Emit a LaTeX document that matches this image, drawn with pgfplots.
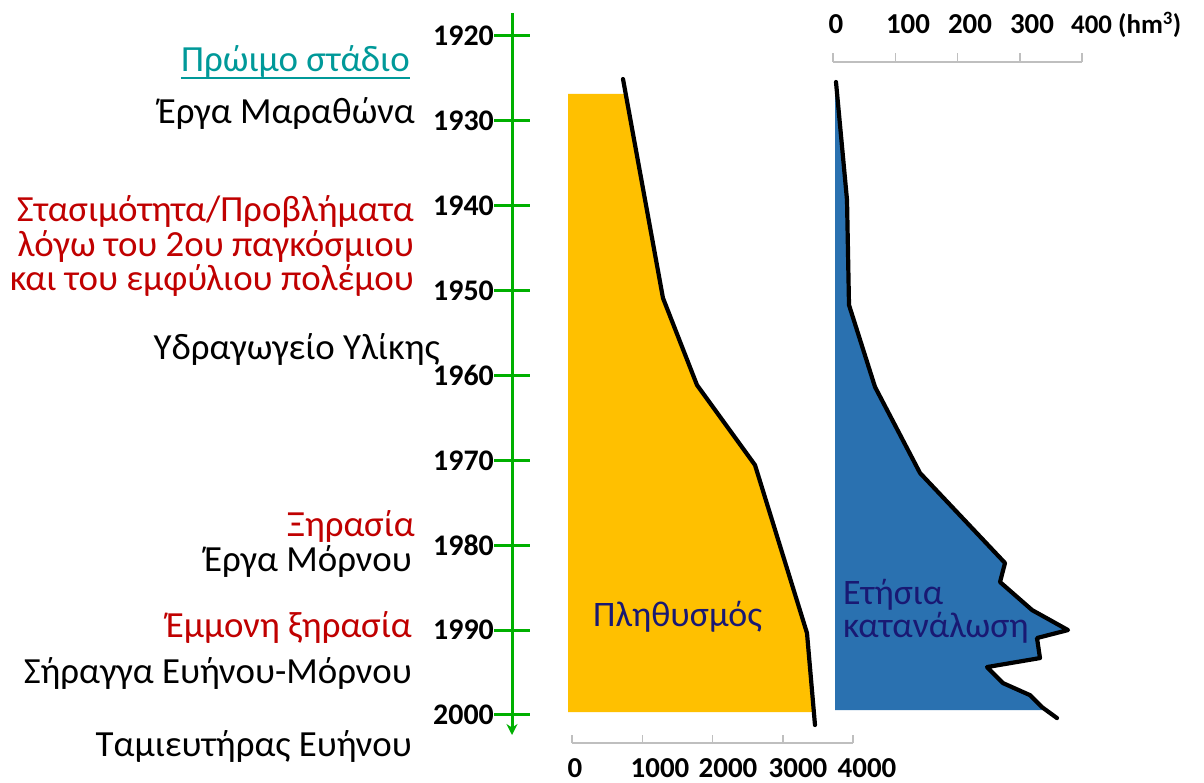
\documentclass[border=0pt]{standalone}
\usepackage{fontspec}
\setmainfont{Carlito}
\usepackage{pgfplots}
\pgfplotsset{compat=1.18}
\usetikzlibrary{arrows.meta}
\definecolor{popc}{RGB}{255,192,0}
\definecolor{conc}{RGB}{42,113,176}
\definecolor{tlgreen}{RGB}{0,176,0}
\definecolor{dred}{RGB}{192,0,0}
\definecolor{tealc}{RGB}{0,153,153}
\definecolor{navyc}{RGB}{25,25,115}
\definecolor{axgray}{RGB}{191,191,191}
\newcommand\bigf{\fontsize{37}{34}\selectfont}
\newcommand\midf{\fontsize{36}{32}\selectfont}
\newcommand\numf{\fontsize{29}{30}\selectfont\bfseries}
\newcommand\yearf{\fontsize{30}{30}\selectfont\bfseries}
\begin{document}
\begin{tikzpicture}
\path[use as bounding box] (0,0) rectangle (1204bp,783bp);
% population
\begin{axis}[at={(572bp,0bp)}, anchor=south west, scale only axis,
  width=281bp, height=783bp, xmin=0, xmax=4000, ymin=1915.758, ymax=2008.01,
  y dir=reverse, axis lines=none, clip=false]
\addplot[fill=popc, draw=none] coordinates {(-57,1926.83) (765,1926.83) (1295,1950.87) (1779,1961.12) (2605,1970.55) (3345,1990.34) (3420,1999.65) (-57,1999.65)} -- cycle;
\addplot[black, line width=4.2bp, line join=round, line cap=round] coordinates {(726,1925.07) (1295,1950.87) (1779,1961.12) (2605,1970.55) (3345,1990.34) (3459,2001.18)};
\end{axis}
% consumption
\begin{axis}[at={(833bp,0bp)}, anchor=south west, scale only axis,
  width=249bp, height=783bp, xmin=0, xmax=400, ymin=1915.758, ymax=2008.01,
  y dir=reverse, axis lines=none, clip=false]
\addplot[fill=conc, draw=none] coordinates {(3.2,1927.07) (6.9,1927.07) (22.5,1939.32) (25.7,1951.69) (67.5,1961.35) (139.8,1971.49) (276.3,1982.09) (268.3,1984.33) (319.7,1987.63) (377.5,1989.99) (327.7,1990.93) (332.5,1993.29) (247.4,1994.35) (273.1,1996.24) (316.5,1997.66) (335.7,1999.07) (342,1999.41) (3.2,1999.41)} -- cycle;
\addplot[black, line width=4.2bp, line join=round, line cap=round] coordinates {(4.8,1925.42) (22.5,1939.32) (25.7,1951.69) (67.5,1961.35) (139.8,1971.49) (276.3,1982.09) (268.3,1984.33) (319.7,1987.63) (377.5,1989.99) (327.7,1990.93) (332.5,1993.29) (247.4,1994.35) (273.1,1996.24) (316.5,1997.66) (335.7,1999.07) (359.8,2000.36)};
\end{axis}
% timeline
\begin{axis}[at={(494bp,48bp)}, anchor=south west, scale only axis,
  width=36bp, height=722bp, xmin=-1, xmax=1, ymin=1917.29, ymax=2002.36,
  y dir=reverse, axis x line=none, axis y line=center,
  axis line style={draw=tlgreen, line width=3bp, -{Stealth[length=11bp,width=11bp]}},
  ytick={1920,1930,1940,1950,1960,1970,1980,1990,2000},
  yticklabels={1920,1930,1940,1950,1960,1970,1980,1990,2000},
  tick align=center, major tick length=36bp,
  tick style={draw=tlgreen, line width=3bp},
  yticklabel style={font=\yearf, anchor=east, inner sep=0pt},
  clip=false]
\addplot[draw=none] coordinates {(0,1920) (0,2000)};
\end{axis}
% gray scales
\draw[axgray, line width=1.5bp] (833bp,721bp) -- (1082bp,721bp);
\foreach \x in {833,895.25,957.5,1019.75,1082} \draw[axgray, line width=1.5bp] (\x bp,721bp) -- (\x bp,730bp);
\draw[axgray, line width=1.5bp] (572bp,40bp) -- (853bp,40bp);
\foreach \x in {572,642.25,712.5,782.75,853} \draw[axgray, line width=1.5bp] (\x bp,40bp) -- (\x bp,48bp);
% scale labels
\foreach \x/\t in {836/0,908/100,970/200,1032/300} \node[anchor=base, inner sep=0pt, font=\numf] at (\x bp,749bp) {\t};
\node[anchor=base west, inner sep=0pt, font=\fontsize{27}{30}\selectfont\bfseries] at (1071bp,749bp) {400 (hm\textsuperscript{3})};
\foreach \x/\t in {575/0,660/1000,728/2000,798/3000,867/4000} \node[anchor=base, inner sep=0pt, font=\numf] at (\x bp,6bp) {\t};
% left labels
\node[anchor=base east, inner sep=0pt, text=tealc, font=\bigf] (pr) at (410bp,711bp) {Πρώιμο στάδιο};
\draw[tealc, line width=2bp] ([yshift=-6bp]pr.base west) -- ([yshift=-6bp]pr.base east);
\node[anchor=base east, inner sep=0pt, font=\bigf] at (415bp,659bp) {Έργα Μαραθώνα};
\node[anchor=base east, inner sep=0pt, font=\bigf, text=dred] at (414bp,561bp) {Στασιμότητα/Προβλήματα};
\node[anchor=base east, inner sep=0pt, font=\bigf, text=dred] at (414bp,526bp) {λόγω του 2ου παγκόσμιου};
\node[anchor=base east, inner sep=0pt, font=\bigf, text=dred] at (414bp,492bp) {και του εμφύλιου πολέμου};
\node[anchor=base east, inner sep=0pt, font=\bigf] at (440bp,423bp) {Υδραγωγείο Υλίκης};
\node[anchor=base east, inner sep=0pt, font=\bigf, text=dred] at (415bp,246bp) {Ξηρασία};
\node[anchor=base east, inner sep=0pt, font=\bigf] at (412bp,211bp) {Έργα Μόρνου};
\node[anchor=base east, inner sep=0pt, font=\bigf, text=dred] at (412bp,145bp) {Έμμονη ξηρασία};
\node[anchor=base east, inner sep=0pt, font=\bigf] at (412bp,99bp) {Σήραγγα Ευήνου-Μόρνου};
\node[anchor=base east, inner sep=0pt, font=\bigf] at (412bp,27bp) {Ταμιευτήρας Ευήνου};
% area labels
\node[anchor=base west, inner sep=0pt, font=\midf, text=navyc] at (593bp,156bp) {Πληθυσμός};
\node[anchor=base west, inner sep=0pt, font=\midf, text=navyc] at (843bp,178bp) {Ετήσια};
\node[anchor=base west, inner sep=0pt, font=\midf, text=navyc] at (843bp,145bp) {κατανάλωση};
\end{tikzpicture}
\end{document}
